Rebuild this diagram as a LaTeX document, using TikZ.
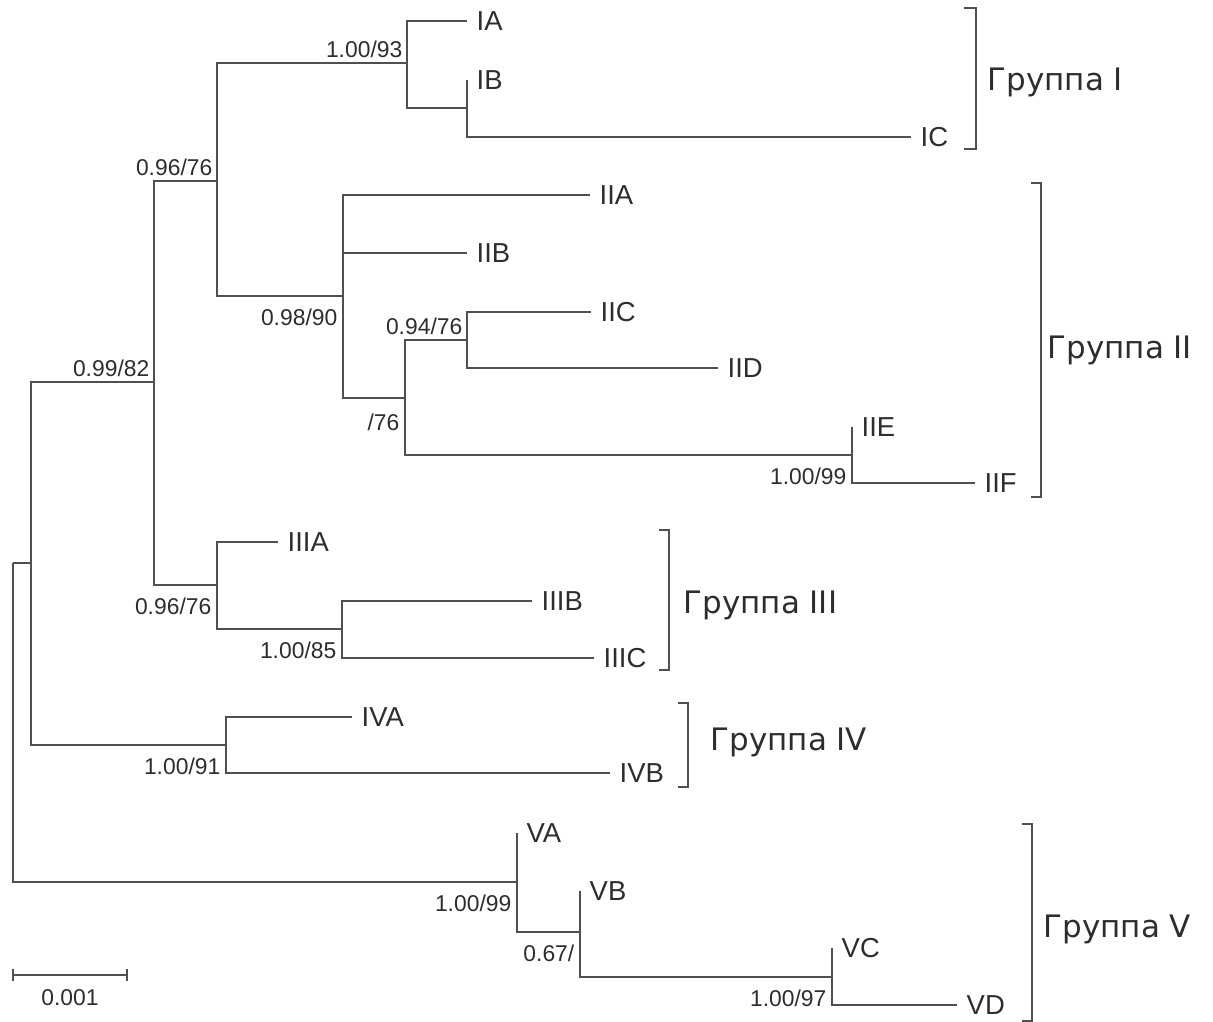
\documentclass[tikz,border=0pt]{standalone}
\usepackage{fontspec}
\setmainfont{Liberation Sans}
\newfontfamily\grpfont{DejaVu Sans}
\definecolor{branchgray}{RGB}{80,80,80}
\definecolor{labelgray}{RGB}{45,45,45}

\begin{document}
\begin{tikzpicture}[x=0.01cm, y=-0.01cm,
    branch/.style={draw=branchgray, line width=0.8pt},
    tip/.style={anchor=west, inner sep=0pt, xshift=0.09cm, text=labelgray,
      font=\fontsize{7.8}{8}\selectfont},
    supa/.style={anchor=south east, inner sep=0pt, xshift=-0.04cm, yshift=0.05cm,
      text=labelgray, font=\fontsize{6.5}{7}\selectfont},
    supb/.style={anchor=north east, inner sep=0pt, xshift=-0.05cm, yshift=-0.12cm,
      text=labelgray, font=\fontsize{6.5}{7}\selectfont},
    grp/.style={anchor=base west, inner sep=0pt, text=labelgray,
      font=\grpfont\fontsize{8.8}{10}\selectfont}]
    \useasboundingbox (0,0) rectangle (1213,1022);

    % Internal nodes (pixel grid, y down)
    \coordinate (root) at (13,563);
    \coordinate (n1) at (31,563);
    \coordinate (n2) at (154,382);
    \coordinate (n3) at (217,181);
    \coordinate (n5) at (407,63);
    \coordinate (n7) at (467,108);
    \coordinate (n6) at (343,296);
    \coordinate (n8) at (405,398);
    \coordinate (n10) at (467,340);
    \coordinate (n11) at (852,455);
    \coordinate (n9) at (217,585);
    \coordinate (n12) at (342,629);
    \coordinate (n4) at (226,745);
    \coordinate (v) at (517,882);
    \coordinate (n13) at (580,932);
    \coordinate (n14) at (832,977);

    % Tips and their labels
    \foreach \t/\x/\y in {IA/467/21, IB/467/80, IC/911/137, IIA/590/195,
        IIB/467/253, IIC/591/312, IID/718/368, IIE/852/427, IIF/975/483,
        IIIA/278/542, IIIB/532/601, IIIC/594/658, IVA/352/717, IVB/610/773,
        VA/517/833, VB/580/891, VC/832/948, VD/957/1005} {
      \coordinate (\t) at (\x,\y);
      \node[tip] (l\t) at (\t) {\t};
    }

    % Branches
    \foreach \a/\b in {root/n1, root/v, n1/n2, n1/n4, n2/n3, n2/n9,
        n3/n5, n3/n6, n5/IA, n5/n7, n7/IB, n7/IC,
        n6/IIA, n6/IIB, n6/n8, n8/n10, n8/n11, n10/IIC, n10/IID,
        n11/IIE, n11/IIF, n9/IIIA, n9/n12, n12/IIIB, n12/IIIC,
        n4/IVA, n4/IVB, v/VA, v/n13, n13/VB, n13/n14, n14/VC, n14/VD}
      \draw[branch] (\a) |- (\b);

    % Support values
    \node[supa] (s5) at (n5) {1.00/93};
    \node[supa] (s3) at (n3) {0.96/76};
    \node[supa] (s10) at (n10) {0.94/76};
    \node[supa] (s2) at (n2) {0.99/82};
    \node[supb] (s6) at (n6) {0.98/90};
    \node[supb, yshift=-0.03cm] (s8) at (n8) {/76};
    \node[supb] (s9) at (n9) {0.96/76};
    \node[supb] (s12) at (n12) {1.00/85};
    \node[supb] (s4) at (n4) {1.00/91};
    \node[supb] (s11) at (n11) {1.00/99};
    \node[supb] (sv) at (v) {1.00/99};
    \node[supb] (s13) at (n13) {0.67/};
    \node[supb] (s14) at (n14) {1.00/97};

    % Group brackets
    \draw[branch] (964,8) -- (976,8) -- (976,149) -- (964,149);
    \node[grp] (g1) at (987,91) {Группа I};
    \draw[branch] (1031,183) -- (1041,183) -- (1041,497) -- (1031,497);
    \node[grp] (g2) at (1047,359) {Группа II};
    \draw[branch] (659,530) -- (669,530) -- (669,670) -- (659,670);
    \node[grp] (g3) at (683,613) {Группа III};
    \draw[branch] (678,703) -- (688,703) -- (688,787) -- (678,787);
    \node[grp] (g4) at (710,750) {Группа IV};
    \draw[branch] (1022,824) -- (1032,824) -- (1032,1021) -- (1022,1021);
    \node[grp] (g5) at (1043,937) {Группа V};

    % Scale bar
    \draw[branch] (13,975) -- (127,975);
    \draw[branch] (13,969) -- (13,981);
    \draw[branch] (127,969) -- (127,981);
    \node[text=labelgray, font=\fontsize{6.5}{7}\selectfont] (scale) at (70,998) {0.001};
\end{tikzpicture}
\end{document}
